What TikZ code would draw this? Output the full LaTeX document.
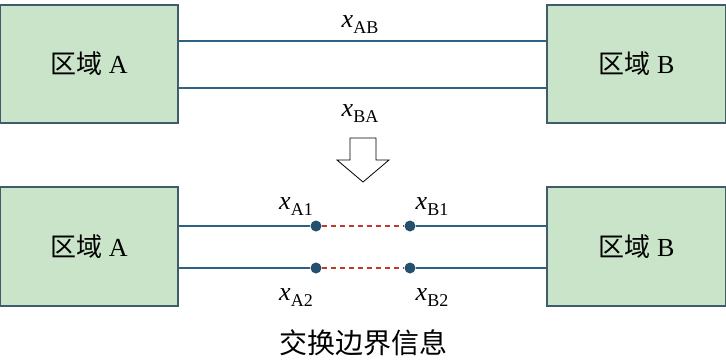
\documentclass[tikz,border=0pt]{standalone}
\usepackage{fontspec}
\setmainfont{Liberation Serif}
\newfontfamily\cjk{Noto Sans CJK SC}
\usepackage{tikz}
\usetikzlibrary{positioning,calc}

\definecolor{areafill}{HTML}{C9E4C8}
\definecolor{areaedge}{HTML}{3E5C6A}
\definecolor{tieline}{HTML}{2F6182}
\definecolor{tiedot}{HTML}{24506E}
\definecolor{cutline}{HTML}{C0392B}

\newcommand{\xsub}[1]{{\fontsize{26pt}{26pt}\selectfont\itshape x}\raisebox{-6pt}{\fontsize{18pt}{18pt}\selectfont #1}}

\begin{document}
\begin{tikzpicture}[x=1pt, y=-1pt,
    area/.style={draw=areaedge, line width=1.5pt, fill=areafill, rectangle, minimum width=178pt, minimum height=118pt, inner sep=0pt, font=\fontsize{26pt}{26pt}\selectfont},
    tie/.style={draw=tieline, line width=1.8pt},
    cut/.style={draw=cutline, line width=2pt, dash pattern=on 5pt off 4pt},
    bus/.style={circle, fill=tiedot, minimum size=11pt, inner sep=0pt},
    var/.style={inner sep=0pt}]
    \useasboundingbox (0,0) rectangle (726,360);

    % whole system
    \node [area] (areaA) at (89,64) {{\cjk 区域} A};
    \node [area, minimum width=179pt] (areaB) at (636.5,64) {{\cjk 区域} B};
    \draw [tie] ([yshift=23pt]areaA.east) -- ([yshift=23pt]areaB.west);
    \draw [tie] ([yshift=-24pt]areaA.east) -- ([yshift=-24pt]areaB.west);
    \node [var] (xab) at (360,25) {\xsub{AB}};
    \node [var] (xba) at (360,114) {\xsub{BA}};

    % split arrow
    \draw [line width=0.8pt] (350,138) -- (376,138) -- (376,160) -- (389,160) -- (363,182) -- (337,160) -- (350,160) -- cycle;

    % split system
    \node [area, minimum height=119pt] (subA) at (89,246.5) {{\cjk 区域} A};
    \node [area, minimum width=179pt, minimum height=119pt] (subB) at (636.5,246.5) {{\cjk 区域} B};
    \node [bus] (a1) at (316,226) {};
    \node [bus] (b1) at (410,226) {};
    \node [bus] (a2) at (316,268) {};
    \node [bus] (b2) at (410,268) {};
    \draw [tie] (subA.east |- a1) -- (a1);
    \draw [tie] (b1) -- (subB.west |- b1);
    \draw [tie] (subA.east |- a2) -- (a2);
    \draw [tie] (b2) -- (subB.west |- b2);
    \draw [cut] (a1) -- (b1);
    \draw [cut] (a2) -- (b2);
    \node [var] (xa1) at (296,207) {\xsub{A1}};
    \node [var] (xb1) at (432,207) {\xsub{B1}};
    \node [var] (xa2) at (296,298) {\xsub{A2}};
    \node [var] (xb2) at (432,298) {\xsub{B2}};

    \node [font=\fontsize{28pt}{28pt}\selectfont\cjk] (swap) at (363,343) {交换边界信息};
\end{tikzpicture}
\end{document}
